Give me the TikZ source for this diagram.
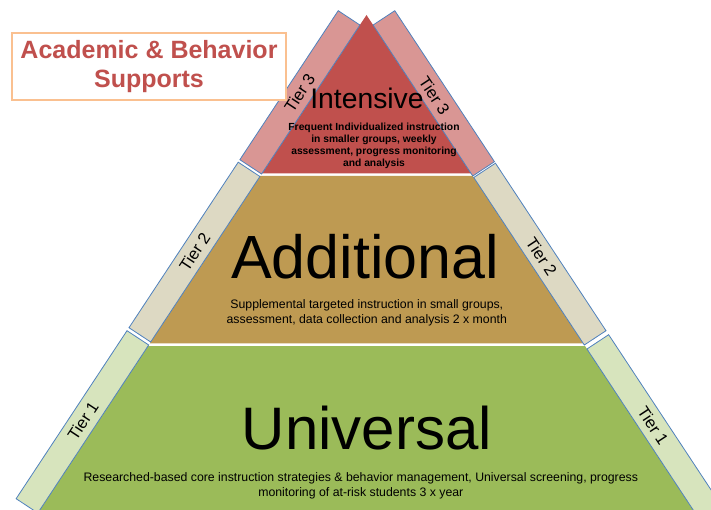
\documentclass[tikz,border=0pt]{standalone}
\usepackage{fontspec}
\setmainfont{Liberation Sans}
\usetikzlibrary{calc}

\definecolor{tierred}{HTML}{C0504D}
\definecolor{tiertan}{HTML}{BE9A52}
\definecolor{tiergreen}{HTML}{9BBB59}
\definecolor{bandred}{HTML}{D99694}
\definecolor{bandtan}{HTML}{DDD9C3}
\definecolor{bandgreen}{HTML}{D7E4BD}
\definecolor{bandedge}{HTML}{4F81BD}
\definecolor{titleedge}{HTML}{FAC090}

% A tier band lying along one side of the pyramid.
% #1 = -1 for the left side, +1 for the right side
% #2, #3 = y of the band's inner end points on the side
% #4 = fill colour
\newcommand{\tierband}[4]{%
  \pgfmathsetmacro{\tbxa}{366.5+(#1)*0.66*((#2)-15)}%
  \pgfmathsetmacro{\tbxb}{366.5+(#1)*0.66*((#3)-15)}%
  \pgfmathsetmacro{\tbxc}{\tbxb+(#1)*21.7}%
  \pgfmathsetmacro{\tbxd}{\tbxa+(#1)*21.7}%
  \draw[bandline,fill=#4] (\tbxa,#2) -- (\tbxb,#3) -- (\tbxc,#3-14.3)
    -- (\tbxd,#2-14.3) -- cycle;}

\begin{document}
\begin{tikzpicture}[x=1pt,y=-1pt,
  bandline/.style={draw=bandedge,line width=0.8pt,line join=miter},
  tierlabel/.style={font=\fontsize{16.5}{18}\selectfont,inner sep=0pt},
  bigword/.style={font=\fontsize{60}{66}\selectfont,inner sep=0pt,anchor=base},
  desc/.style={font=\fontsize{12.3}{15}\selectfont,align=center,inner sep=0pt,anchor=north},
  smalldesc/.style={font=\bfseries\fontsize{10.3}{12}\selectfont,align=center,inner sep=0pt,anchor=north}]
\useasboundingbox (0,0) rectangle (711,510);
\clip (0,0) rectangle (711,510);

% pyramid layers
\fill[tierred]   (366.5,15) -- (471,173.3) -- (262,173.3) -- cycle;
\fill[tiertan]   (260.2,176) -- (472.8,176) -- (583.2,343.3) -- (149.8,343.3) -- cycle;
\fill[tiergreen] (148.0,346) -- (585.0,346) -- (699.8,520) -- (33.2,520) -- cycle;

% tier bands along both sides
\tierband{-1}{25}{174}{bandred}
\tierband{-1}{176.5}{342}{bandtan}
\tierband{-1}{345}{513}{bandgreen}
\tierband{1}{25}{176}{bandred}
\tierband{1}{177.5}{345}{bandtan}
\tierband{1}{349}{540}{bandgreen}

% band labels
\node[tierlabel,rotate=56.6]  (t3l) at (299.6,92.8)  {Tier 3};
\node[tierlabel,rotate=-56.6] (t3r) at (434.5,96)    {Tier 3};
\node[tierlabel,rotate=56.6]  (t2l) at (194.7,251.8) {Tier 2};
\node[tierlabel,rotate=-56.6] (t2r) at (541.6,256.8) {Tier 2};
\node[tierlabel,rotate=56.6]  (t1l) at (83,420.8)    {Tier 1};
\node[tierlabel,rotate=-56.6] (t1r) at (653.2,425.8) {Tier 1};

% tier names and descriptions
\node[font=\fontsize{28.3}{30}\selectfont,inner sep=0pt,anchor=base] (intensive) at (367,108.5) {Intensive};
\node[smalldesc] (intensivetext) at (374,123.2) {Frequent Individualized instruction\\in smaller groups, weekly\\assessment, progress monitoring\\and analysis};

\node[bigword,font=\fontsize{61}{66}\selectfont] (additional) at (365,278.3) {Additional};
\node[desc] (additionaltext) at (366.8,299.4) {Supplemental targeted instruction in small groups,\\assessment, data collection and analysis 2 x month};

\node[bigword] (universal) at (367,449.3) {Universal};
\node[desc] (universaltext) at (360.8,472.6) {Researched-based core instruction strategies \& behavior management, Universal screening, progress\\monitoring of at-risk students 3 x year};

% title box
\node[draw=titleedge,line width=1.6pt,fill=white,minimum width=274pt,minimum height=67pt,
      inner sep=0pt,align=center,text=tierred,
      font=\bfseries\fontsize{25}{29}\selectfont] (title) at (149,66.5)
  {Academic \& Behavior\\Supports};
\end{tikzpicture}
\end{document}
